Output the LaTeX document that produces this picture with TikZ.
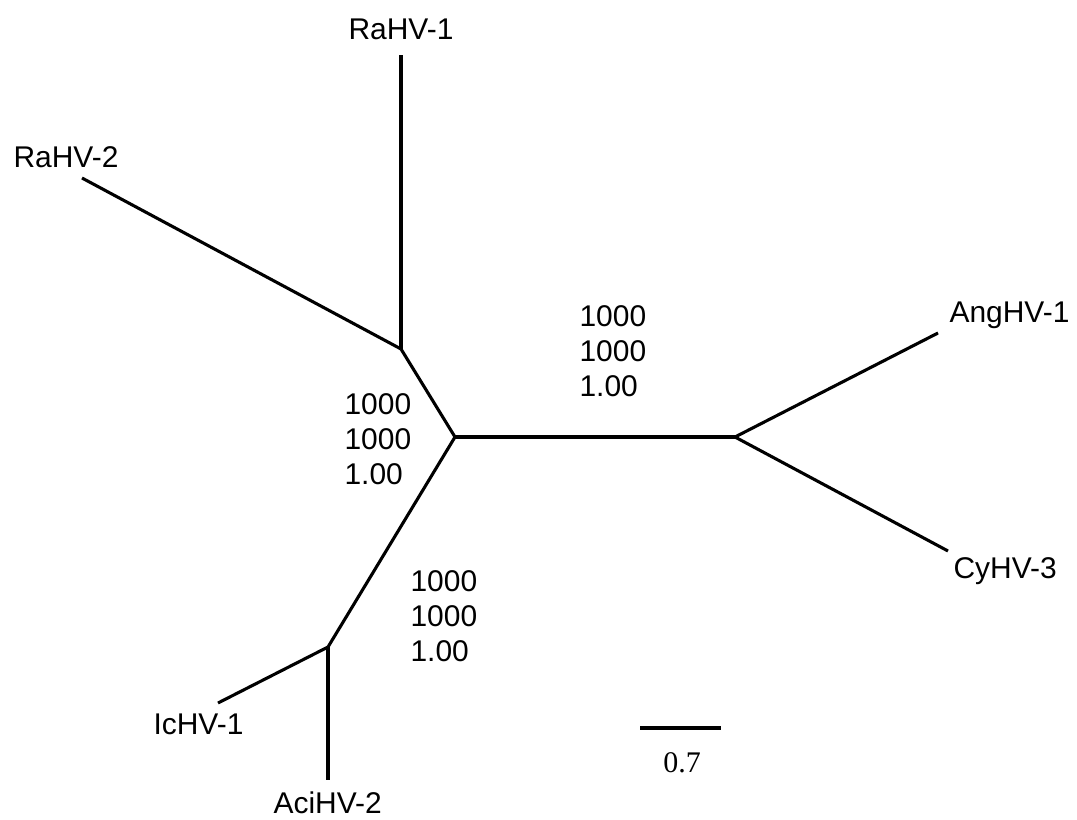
\documentclass[tikz,border=0pt]{standalone}
\usepackage{fontspec}
\setmainfont{Liberation Sans}
\newfontfamily\barfont{Liberation Serif}

\begin{document}
\begin{tikzpicture}[x=0.025cm,y=-0.025cm,line width=2.2pt]
	\tikzstyle{branch}=[draw=black,line cap=butt]
	\tikzstyle{taxon}=[inner sep=0pt,font=\fontsize{21.3}{25}\selectfont]
	\tikzstyle{support}=[taxon,align=left,anchor=north west]
	
	\useasboundingbox (0,0) rectangle (1077,820);
	
	% Draw the inner nodes of the tree
	\coordinate (U) at (401,349);
	\coordinate (C) at (455,437);
	\coordinate (R) at (735,437);
	\coordinate (L) at (328,647);
	
	% Draw the tips of the tree
	\coordinate (T-RaHV1) at (401,55);
	\coordinate (T-RaHV2) at (82,178);
	\coordinate (T-AngHV1) at (938,333);
	\coordinate (T-CyHV3) at (948,551);
	\coordinate (T-IcHV1) at (218,703);
	\coordinate (T-AciHV2) at (328,780);
	
	% Taxon names
	\node[taxon,anchor=base] (RaHV1) at (401,40) {RaHV-1};
	\node[taxon,anchor=base west] (RaHV2) at (12,168) {RaHV-2};
	\node[taxon,anchor=base west] (AngHV1) at (948,322) {AngHV-1};
	\node[taxon,anchor=base west] (CyHV3) at (952,578) {CyHV-3};
	\node[taxon,anchor=base west] (IcHV1) at (152,734) {IcHV-1};
	\node[taxon,anchor=base west] (AciHV2) at (272,813) {AciHV-2};
	
	% Connect the inner nodes
	\path[branch] (U) -- (C);
	\path[branch] (C) -- (R);
	\path[branch] (C) -- (L);
	% Connect the tips with their inner nodes
	\foreach \tip in {RaHV1,RaHV2}
	\path[branch] (U) -- (T-\tip);
	\foreach \tip in {AngHV1,CyHV3}
	\path[branch] (R) -- (T-\tip);
	\foreach \tip in {IcHV1,AciHV2}
	\path[branch] (L) -- (T-\tip);
	
	% Support values
	\node[support] (S-R) at (578,304) {1000\\1000\\1.00};
	\node[support] (S-U) at (343,392) {1000\\1000\\1.00};
	\node[support] (S-L) at (409,569) {1000\\1000\\1.00};
	
	% Scale bar
	\coordinate (B-1) at (640,728);
	\coordinate (B-2) at (721,728);
	\path[branch] (B-1) -- (B-2);
	\node[inner sep=0pt,anchor=base,font=\barfont\fontsize{21.3}{25}\selectfont] (B-label) at (682,772) {0.7};
	
\end{tikzpicture}
\end{document}
